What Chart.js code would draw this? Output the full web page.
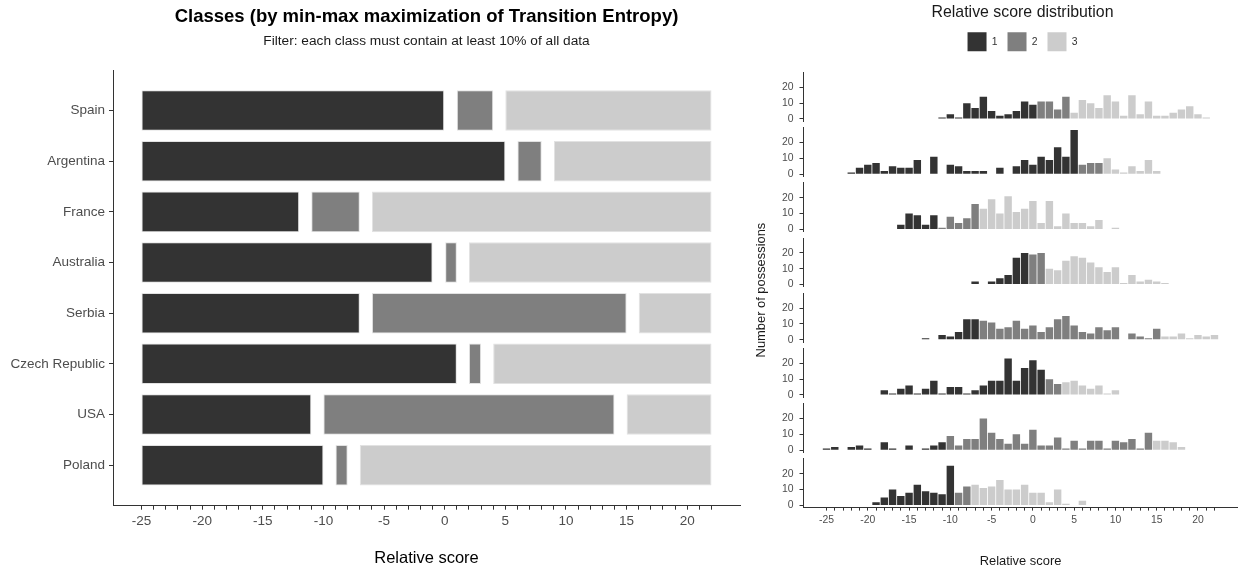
<!DOCTYPE html>
<html><head><meta charset="utf-8">
<script src="https://cdn.jsdelivr.net/npm/chart.js@4.4.0/dist/chart.umd.min.js"></script>
<style>
html,body{margin:0;padding:0;background:#fff;}
body{width:1238px;height:573px;position:relative;overflow:hidden;}
canvas{position:absolute;}
</style></head><body>
<canvas id="left" width="760" height="573" style="left:0px;top:0px"></canvas>
<canvas id="frame" width="498" height="573" style="left:740px;top:0px"></canvas>
<canvas id="head" width="435" height="72" style="left:805px;top:0px"></canvas>
<script>
// ---------- data ----------
const countries = ['Spain','Argentina','France','Australia','Serbia','Czech Republic','USA','Poland'];
const classLabels = ['1','2','3'];
const class1Range = [[-25,0],[-25,5],[-25,-12],[-25,-1],[-25,-7],[-25,1],[-25,-11],[-25,-10]];
const class2Range = [[1,4],[6,8],[-11,-7],[0,1],[-6,15],[2,3],[-10,14],[-9,-8]];
const class3Range = [[5,22],[9,22],[-6,22],[2,22],[16,22],[4,22],[15,22],[-7,22]];
const scores = [-25,-24,-23,-22,-21,-20,-19,-18,-17,-16,-15,-14,-13,-12,-11,-10,-9,-8,-7,-6,-5,-4,-3,-2,-1,0,1,2,3,4,5,6,7,8,9,10,11,12,13,14,15,16,17,18,19,20,21,22];
const xTickLabels = [-25,-20,-15,-10,-5,0,5,10,15,20];
const countTicks = [0,10,20];
const spainCounts = [0,0,0,0,0,0,0,0,0,0,0,0,0,0, 1,3,1,10,7,14,5,2,3,5,11,9, 11,11,6,14, 4,12,10,7,15,11,2,15,3,11,2,2,4,6,8,3,1, 0];
const argentinaCounts = [0,0,0, 1,4,6,7,2,5,4,4,9,0,11,0,6,5,2,2,2,0,4,0,5,9,6,11,9,17,11,28,6,7,7,10,3,1,5,2,9,2, 0,0,0,0,0,0,0];
const franceCounts = [0,0,0,0,0,0,0,0,0, 3,10,9,3,9,1,8,4,7,16,13,19,10,21,11,13,18,4,18,2,10,4,4,2,6,0,1, 0,0,0,0,0,0,0,0,0,0,0,0];
const australiaCounts = [0,0,0,0,0,0,0,0,0,0,0,0,0,0,0,0,0,0, 2,0,2,4,6,17,20,19,20,10,9,15,18,17,14,11,8,11,1,6,2,3,2,1, 0,0,0,0,0,0];
const serbiaCounts = [0,0,0,0,0,0,0,0,0,0,0,0, 1,0,3,2,5,13,13,12,11,7,8,12,7,9,5,8,13,15,9,5,4,8,6,8,0,4,2,1,7,2,2,4,1,3,2,3];
const czechCounts = [0,0,0,0,0,0,0, 3,1,4,6,1,4,9,1,5,5,1,3,6,9,9,23,9,17,22,16,10,7,8,9,6,4,6,1,3, 0,0,0,0,0,0,0,0,0,0,0,0];
const usaCounts = [1,2,0,2,3,1,0,5,1,0,3,0,1,3,5,9,3,7,7,20,11,7,4,10,4,13,3,3,8,1,6,1,6,6,1,6,5,7,1,11,6,6,5,2, 0,0,0,0];
const polandCounts = [0,0,0,0,0,0, 2,5,10,6,8,13,9,8,7,25,8,12,13,11,12,16,10,10,13,8,8,2,10,1,0,3, 0,0,0,0,0,0,0,0,0,0,0,0,0,0,0,0];
const histCounts = [spainCounts, argentinaCounts, franceCounts, australiaCounts, serbiaCounts, czechCounts, usaCounts, polandCounts];

// ---------- style ----------
const FONT = "'Liberation Sans', Arial, Helvetica, sans-serif";
Chart.defaults.font.family = FONT;
const classColors = ['#333333','#7f7f7f','#cccccc'];
const axisColor = '#333333';
const tickTextColor = '#4d4d4d';
const classRanges = [class1Range, class2Range, class3Range];

// ---------- left chart ----------
new Chart(document.getElementById('left'), {
  type: 'bar',
  data: {
    datasets: classRanges.map((rng, k) => ({
      label: classLabels[k],
      data: countries.map((c, i) => ({ y: i + 1, x: rng[i] })),
      backgroundColor: classColors[k],
      borderColor: '#e2e2e2',
      borderWidth: 1,
      borderSkipped: false,
      grouped: false,
      barPercentage: 0.8,
      categoryPercentage: 1
    }))
  },
  options: {
    responsive: false, animation: false, devicePixelRatio: 1,
    indexAxis: 'y',
    layout: { padding: { left: 0, right: 20, top: 0, bottom: 0 } },
    plugins: {
      legend: { display: false },
      tooltip: { enabled: false },
      title: { display: true, text: 'Classes (by min-max maximization of Transition Entropy)', fullSize: false,
        font: { size: 18.5, weight: 'bold' }, color: '#000000', padding: { top: 5.9, bottom: 0 } },
      subtitle: { display: true, text: 'Filter: each class must contain at least 10% of all data', fullSize: false,
        font: { size: 13.7, weight: 'normal' }, color: '#1a1a1a', padding: { top: 5.3, bottom: 20.2 } }
    },
    scales: {
      x: {
        type: 'linear', min: -27.35, max: 24.35, offset: false,
        afterBuildTicks: s => { s.ticks = scores.map(v => ({ value: v })); },
        afterFit: s => { s.height = 67.3; },
        ticks: { autoSkip: false, maxRotation: 0, minRotation: 0, padding: 3, color: tickTextColor, font: { size: 13.5 },
          callback: v => xTickLabels.includes(v) ? String(v) : '' },
        grid: { display: true, offset: false, drawOnChartArea: false, drawTicks: true, tickLength: 4, color: axisColor, lineWidth: 1 },
        border: { display: true, color: axisColor, width: 1 },
        title: { display: true, text: 'Relative score', font: { size: 16.5 }, color: '#000000', padding: { top: 0, bottom: 5.1 } }
      },
      y: {
        type: 'linear', reverse: true, min: 0.2, max: 8.8, offset: false,
        afterBuildTicks: s => { s.ticks = countries.map((c, i) => ({ value: i + 1 })); },
        afterFit: s => { s.width = 113; },
        ticks: { autoSkip: false, padding: 4, color: tickTextColor, font: { size: 13.5 },
          callback: v => countries[v - 1] },
        grid: { display: true, offset: false, drawOnChartArea: false, drawTicks: true, tickLength: 4, color: axisColor, lineWidth: 1 },
        border: { display: true, color: axisColor, width: 1 }
      }
    }
  }
});

// ---------- right: frame (shared axes titles + x axis) ----------
const RX_MIN = -27.85, RX_MAX = 24.85;
new Chart(document.getElementById('frame'), {
  type: 'scatter',
  data: { datasets: [] },
  options: {
    responsive: false, animation: false, devicePixelRatio: 1,
    layout: { padding: { top: 72.5, left: 0, right: 0, bottom: 0 } },
    plugins: { legend: { display: false }, tooltip: { enabled: false } },
    scales: {
      x: {
        type: 'linear', min: RX_MIN, max: RX_MAX, position: 'bottom',
        afterBuildTicks: s => { s.ticks = scores.map(v => ({ value: v })); },
        afterFit: s => { s.height = 65.4; },
        ticks: { autoSkip: false, maxRotation: 0, minRotation: 0, padding: 3, color: tickTextColor, font: { size: 10.4 },
          callback: v => xTickLabels.includes(v) ? String(v) : '' },
        grid: { display: true, drawOnChartArea: false, drawTicks: true, tickLength: 3, color: axisColor, lineWidth: 1 },
        border: { display: true, color: axisColor, width: 1 },
        title: { display: true, text: 'Relative score', font: { size: 12.9 }, color: '#1a1a1a', padding: { top: 0, bottom: 3.6 } }
      },
      y: {
        type: 'linear', min: 0, max: 1,
        afterFit: s => { s.width = 63; },
        ticks: { display: false },
        grid: { display: false },
        border: { display: false },
        title: { display: true, text: 'Number of possessions', font: { size: 12.9 }, color: '#1a1a1a', padding: { top: 13.3, bottom: 0 } }
      }
    }
  }
});

// ---------- right: header (title + legend) ----------
new Chart(document.getElementById('head'), {
  type: 'bar',
  data: { labels: [], datasets: classLabels.map((l, k) => ({ label: l, data: [], backgroundColor: classColors[k], borderWidth: 0 })) },
  options: {
    responsive: false, animation: false, devicePixelRatio: 1,
    scales: { x: { display: false }, y: { display: false } },
    plugins: {
      tooltip: { enabled: false },
      title: { display: true, text: 'Relative score distribution', font: { size: 15.9, weight: 'normal' }, color: '#1a1a1a', padding: { top: 2.6, bottom: 0.6 } },
      legend: { display: true, position: 'top', labels: { boxWidth: 19, boxHeight: 19, padding: 10, color: '#333333', font: { size: 10.4 } } }
    }
  }
});

// ---------- right: histogram panels ----------
const PANEL_TOP0 = 72.5, PANEL_STEP = 55.2, PANEL_H = 48.7, MARGIN = 15;
histCounts.forEach((counts, p) => {
  const top = PANEL_TOP0 + PANEL_STEP * p;
  const ct = Math.round(top) - MARGIN;
  const ch = Math.ceil(PANEL_H + 2 * MARGIN + 1);
  const canvas = document.createElement('canvas');
  canvas.width = 498; canvas.height = ch;
  canvas.style.left = '740px'; canvas.style.top = ct + 'px';
  document.body.appendChild(canvas);
  const padTop = top - ct;
  const datasets = classRanges.map((rng, k) => ({
    label: classLabels[k],
    data: scores.map((s, j) => ({ x: s, y: counts[j] }))
                .filter(d => d.y > 0 && d.x >= rng[p][0] && d.x <= rng[p][1]),
    backgroundColor: classColors[k],
    borderWidth: 0,
    grouped: false,
    barPercentage: 0.9,
    categoryPercentage: 1
  }));
  new Chart(canvas, {
    type: 'bar',
    data: { datasets },
    options: {
      responsive: false, animation: false, devicePixelRatio: 1,
      layout: { padding: { top: padTop, bottom: ch - padTop - PANEL_H, left: 0, right: 0 } },
      plugins: { legend: { display: false }, tooltip: { enabled: false } },
      scales: {
        x: { type: 'linear', display: false, min: RX_MIN, max: RX_MAX, offset: false, grid: { offset: false } },
        y: {
          type: 'linear', min: -1.4, max: 29.4,
          afterBuildTicks: s => { s.ticks = countTicks.map(v => ({ value: v })); },
          afterFit: s => { s.width = 63; },
          ticks: { autoSkip: false, padding: 6, color: tickTextColor, font: { size: 10.4 }, callback: v => String(v) },
          grid: { display: true, drawOnChartArea: false, drawTicks: true, tickLength: 3.5, color: axisColor, lineWidth: 1 },
          border: { display: true, color: axisColor, width: 1 }
        }
      }
    }
  });
});
</script>
</body></html>
